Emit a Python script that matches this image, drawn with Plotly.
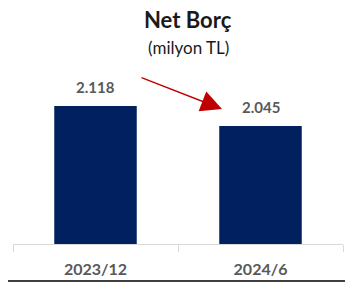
import plotly.graph_objects as go

categories = ["2023/12", "2024/6"]
values = [2118, 2045]

title_text = "Net Borç"
subtitle_text = "(milyon TL)"

FONT = "Lato, 'Open Sans', sans-serif"
GREY = "#595959"

W, H = 345, 286

fig = go.Figure()
fig.add_trace(go.Bar(
    x=categories, y=values, width=0.5,
    marker=dict(color="#002060", line=dict(width=0)),
    textposition="none",
    hoverinfo="skip",
))

# value labels above bars
for c, v in zip(categories, values):
    fig.add_annotation(x=c, y=v, xref="x", yref="y", text=f"<b>{v:,}</b>".replace(",", "."),
                       showarrow=False, yanchor="bottom", yshift=8,
                       font=dict(family=FONT, size=15, color=GREY))

fig.update_layout(
    width=W, height=H,
    margin=dict(l=13, r=2, t=60, b=42, autoexpand=False),
    paper_bgcolor="white", plot_bgcolor="white",
    separators=",.",
    showlegend=False,
    font=dict(family=FONT, color=GREY),
    xaxis=dict(
        automargin=False, fixedrange=True,
        showgrid=False, showline=True, linecolor="#d9d9d9", linewidth=1,
        ticks="outside", tickson="boundaries", ticklen=7, tickcolor="#d9d9d9",
        tickfont=dict(family=FONT, size=16, color=GREY, weight="bold"),
        ticklabelstandoff=11,
    ),
    yaxis=dict(visible=False, automargin=False, fixedrange=True,
               range=[1614, 2286], showgrid=False, zeroline=False),
)

fig.add_annotation(text="<b>" + title_text + "</b>", xref="paper", yref="paper",
                   x=(188 - 13) / 330, y=(244 - 20) / 184, showarrow=False,
                   xanchor="center", yanchor="middle",
                   font=dict(family=FONT, size=22, color="#1a1a1a"))
fig.add_annotation(text=subtitle_text, xref="paper", yref="paper",
                   x=(188 - 13) / 330, y=(244 - 47) / 184, showarrow=False,
                   xanchor="center", yanchor="middle",
                   font=dict(family=FONT, size=17, color="#1a1a1a"))

# red arrow
fig.add_annotation(x=(222 - 13) / 330, y=(244 - 109) / 184, xref="paper", yref="paper",
                   ax=-82, ay=-32, axref="pixel", ayref="pixel", text="",
                   showarrow=True, arrowhead=2, arrowsize=3, arrowwidth=1.4,
                   arrowcolor="#C00000")

# bottom black rule
fig.add_shape(type="line", xref="paper", yref="paper",
              x0=-5 / 330, x1=1.01, y0=(244 - 281) / 184, y1=(244 - 281) / 184,
              line=dict(color="black", width=1.5))

fig.write_html("out.html", config={"displayModeBar": False, "staticPlot": True},
               post_script="document.body.style.margin='0';")
